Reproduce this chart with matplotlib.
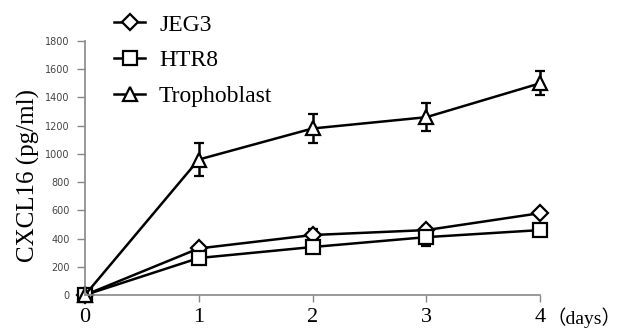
import numpy as np
import matplotlib
matplotlib.use("Agg")
import matplotlib.pyplot as plt
from matplotlib.lines import Line2D

# datos
days = [0, 1, 2, 3, 4]
jeg3 = [0, 330, 425, 460, 580]
jeg3_err = [0, 20, 40, 30, 15]
htr8 = [0, 262, 340, 410, 460]
htr8_err = [0, 20, 25, 60, 15]
tropho = [0, 960, 1180, 1260, 1500]
tropho_err = [0, 115, 105, 100, 85]
yticks = [0, 200, 400, 600, 800, 1000, 1200, 1400, 1600, 1800]

serif = ["Liberation Serif", "Noto Sans CJK SC"]

fig = plt.figure(figsize=(6.22, 3.30), dpi=100)
ax = fig.add_axes([85 / 622, 1 - 295 / 330, 455 / 622, 254 / 330])

style = dict(color="black", lw=1.8, mfc="white", mec="black", mew=1.6,
             ecolor="black", elinewidth=1.8, capsize=3.5, capthick=1.8, clip_on=False)
series = [("JEG3", jeg3, jeg3_err, "D", 8),
          ("HTR8", htr8, htr8_err, "s", 9.5),
          ("Trophoblast", tropho, tropho_err, "^", 10.5)]
handles = []
for name, vals, err, mk, ms in series:
    ax.errorbar(days, vals, yerr=err, marker=mk, ms=ms, **style)
    handles.append(Line2D([], [], color="black", lw=1.8, marker=mk, ms=ms,
                          mfc="white", mec="black", mew=1.6, label=name))

ax.set_xlim(0, 4)
ax.set_ylim(0, 1800)
ax.set_xticks(days)
ax.set_yticks(yticks)
ax.set_xticklabels([str(d) for d in days], family=serif, fontsize=16)
ax.set_yticklabels([str(v) for v in yticks], family="DejaVu Sans", fontsize=7, color="#444444")
ax.tick_params(axis="x", length=5, width=1, color="#888888", pad=4)
ax.tick_params(axis="y", length=6, width=1, color="#888888", pad=5)
for s in ["top", "right"]:
    ax.spines[s].set_visible(False)
for s in ["left", "bottom"]:
    ax.spines[s].set_color("#888888")
    ax.spines[s].set_linewidth(1.2)

ax.set_ylabel("CXCL16 (pg/ml)", family=serif, fontsize=18)
ax.yaxis.set_label_coords(-0.10, 0.47)

fig.text(584 / 622, 1 - 318 / 330, "（days）", family=serif, fontsize=14,
         ha="center", va="center")

ax.legend(handles=handles, loc="upper left", bbox_to_anchor=(100 / 622, 1.0),
          bbox_transform=fig.transFigure, frameon=False,
          prop={"family": serif, "size": 17}, handlelength=1.3,
          handletextpad=0.6, labelspacing=0.6, borderpad=0.1)

fig.savefig("out.png", dpi=100)
